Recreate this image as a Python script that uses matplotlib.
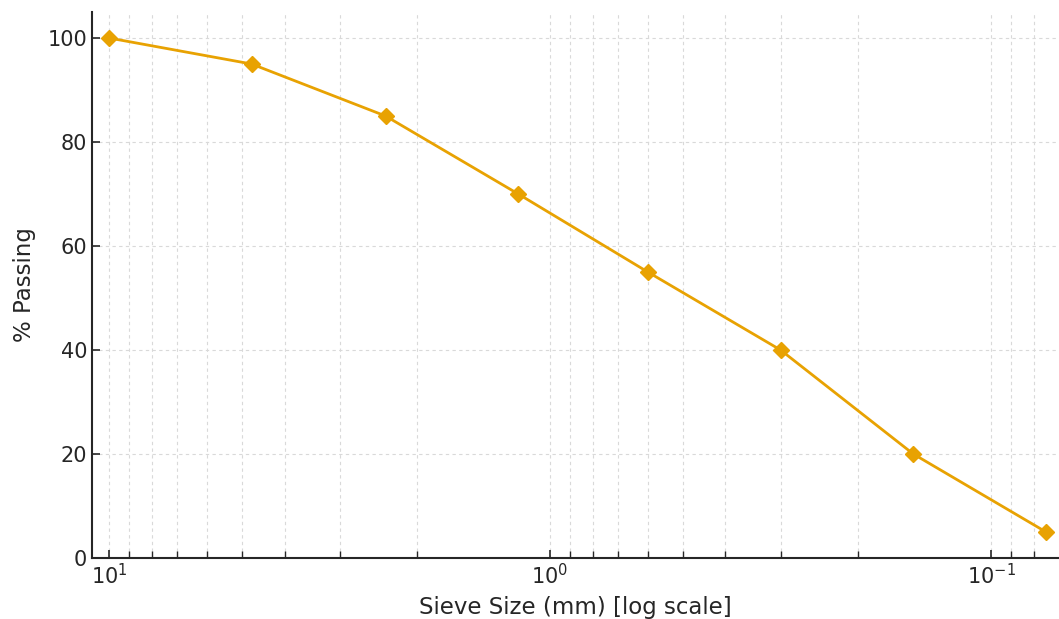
import matplotlib
matplotlib.use("Agg")
import matplotlib.pyplot as plt
import numpy as np

sieve_sizes = [10, 4.75, 2.36, 1.18, 0.6, 0.3, 0.15, 0.075]
percent_passing = [100, 95, 85, 70, 55, 40, 20, 5]

plt.rcParams['font.family'] = ['DejaVu Sans']
fig = plt.figure(figsize=(10.59, 6.19), dpi=100)
ax = fig.add_axes([92/1059, 61/619, (1059-92)/1059, (558-12)/619])

ax.plot(sieve_sizes, percent_passing, color='#E8A202', lw=2.0, marker='D', markersize=8,
        zorder=3)
ax.set_xscale('log')
ax.set_xlim(10.93, 0.0701)
ax.set_ylim(0, 105)
ax.set_yticks([0, 20, 40, 60, 80, 100])

grid_kw = dict(linestyle=(0, (3, 3)), color='#d9d9d9', linewidth=0.8)
ax.grid(True, which='both', axis='x', **grid_kw)
ax.grid(True, which='major', axis='y', **grid_kw)

for s in ['top', 'right']:
    ax.spines[s].set_visible(False)
for s in ['left', 'bottom']:
    ax.spines[s].set_color('#262626')
    ax.spines[s].set_linewidth(1.5)

ax.tick_params(axis='both', which='both', direction='in', color='#262626', labelcolor='#262626',
               labelsize=15)
ax.tick_params(axis='both', which='major', length=6, width=1.2)
ax.tick_params(axis='x', which='minor', length=5, width=1.0)

ax.set_xlabel('Sieve Size (mm) [log scale]', fontsize=16.5, color='#262626', labelpad=6)
ax.set_ylabel('% Passing', fontsize=16.5, color='#262626', labelpad=8)

fig.savefig('out.png', dpi=100)
